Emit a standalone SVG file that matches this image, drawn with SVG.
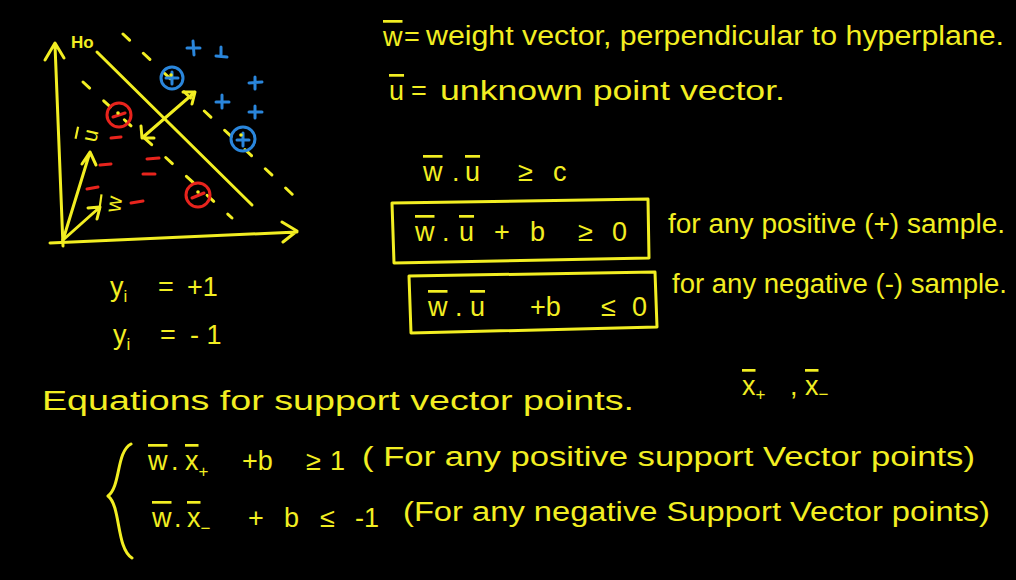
<svg xmlns="http://www.w3.org/2000/svg" width="1016" height="580" viewBox="0 0 1016 580">
<style>
.y{fill:#f2ee22;font-family:"Liberation Sans",Arial,sans-serif;font-size:27px}
.s{font-size:17px}
.o{text-decoration:overline}
.ln{stroke:#f2ee22;stroke-width:3;fill:none;stroke-linecap:round;stroke-linejoin:round}
.ds{stroke:#f2ee22;stroke-width:3;fill:none;stroke-linecap:round;stroke-dasharray:9 19}
.bl{stroke:#2a86dc;stroke-width:3;fill:none;stroke-linecap:round}
.rd{stroke:#e8241d;stroke-width:3;fill:none;stroke-linecap:round}
</style>
<rect width="1016" height="580" fill="#000"/>
<g id="plot">
<path class="ln" d="M63,246 L55,45 M45,60 L55,43 L64,58"/>
<path class="ln" d="M50,243 L297,232 M282,222 L297,231 L283,242"/>
<text class="y" x="71" y="48" style="font-size:17px;font-weight:bold">Ho</text>
<path class="ln" d="M97,52 L252,205"/>
<path class="ds" d="M123,34 L293,195"/>
<path class="ds" d="M83,82 L232,218"/>
<path class="ln" d="M142,138 L195,92 M183,92 L195,92 L192,104 M141,126 L142,138 L154,138"/>
<path class="ln" d="M63,240 L90,152 M82,164 L90,152 L96,165"/>
<path class="ln" d="M63,240 L100,207 M88,208 L100,207 L97,219"/>
<text class="y" transform="translate(96,143) rotate(-78)" style="font-size:22px"><tspan class="o">u</tspan></text>
<text class="y" transform="translate(120,213) rotate(-82)" style="font-size:22px"><tspan class="o">w</tspan></text>
<circle class="bl" cx="172" cy="78" r="11"/>
<path class="bl" d="M166,78 L178,78 M172,72 L172,84"/>
<circle class="bl" cx="243" cy="139" r="12"/>
<path class="bl" d="M237,140 L249,140 M243,133 L243,146"/>
<path class="bl" d="M187,48 L200,48 M193,41 L194,55 M216,56 L227,57 M221,47 L221,56 M249,83 L262,82 M255,77 L255,89 M216,102 L229,102 M222,95 L222,108 M249,112 L262,112 M255,106 L255,118"/>
<circle class="rd" cx="119" cy="115" r="12"/>
<path class="rd" d="M113,117 L125,113"/>
<circle class="rd" cx="198" cy="195" r="12"/>
<path class="rd" d="M192,198 L204,193"/>
<path class="rd" d="M111,138 L121,137 M100,165 L111,164 M147,159 L159,158 M143,174 L155,174 M87,189 L98,187 M131,203 L143,201"/>
<circle cx="118" cy="113" r="1.8" fill="#f2ee22"/>
<circle cx="198" cy="192" r="1.8" fill="#f2ee22"/>
<circle cx="171" cy="75" r="1.8" fill="#f2ee22"/>
<circle cx="241" cy="135" r="1.8" fill="#f2ee22"/>
</g>
<g id="defs-text">
<text class="y" y="46"><tspan x="383" class="o">w</tspan><tspan x="404">=</tspan></text>
<text class="y" x="426" y="45" textLength="578" lengthAdjust="spacingAndGlyphs">weight vector, perpendicular to hyperplane.</text>
<text class="y" y="100"><tspan x="389" class="o">u</tspan><tspan x="411">=</tspan></text>
<text class="y" x="440" y="100" textLength="345" lengthAdjust="spacingAndGlyphs">unknown point vector.</text>
</g>
<g id="ineq">
<text class="y" y="181"><tspan x="423" class="o">w</tspan><tspan x="452">.</tspan><tspan x="465" class="o">u</tspan><tspan x="518">≥</tspan><tspan x="553">c</tspan></text>
</g>
<g id="box-pos">
<path class="ln" d="M392,203 L648,199 L649,258 L394,263 Z"/>
<text class="y" y="241"><tspan x="415" class="o">w</tspan><tspan x="442">.</tspan><tspan x="459" class="o">u</tspan><tspan x="494">+</tspan><tspan x="530">b</tspan><tspan x="578">≥</tspan><tspan x="612">0</tspan></text>
<text class="y" x="668" y="233" textLength="337" lengthAdjust="spacingAndGlyphs">for any positive (+) sample.</text>
</g>
<g id="box-neg">
<path class="ln" d="M409,276 L655,272 L657,327 L411,333 Z"/>
<text class="y" y="316"><tspan x="428" class="o">w</tspan><tspan x="455">.</tspan><tspan x="470" class="o">u</tspan><tspan x="530">+b</tspan><tspan x="601">≤</tspan><tspan x="632">0</tspan></text>
<text class="y" x="672" y="293" textLength="335" lengthAdjust="spacingAndGlyphs">for any negative (-) sample.</text>
</g>
<g id="labels">
<text class="y" y="296"><tspan x="110">y</tspan><tspan class="s" dy="6">i</tspan><tspan x="158" dy="-6">=</tspan><tspan x="187">+1</tspan></text>
<text class="y" y="344"><tspan x="113">y</tspan><tspan class="s" dy="6">i</tspan><tspan x="160" dy="-6">=</tspan><tspan x="190">- 1</tspan></text>
</g>
<g id="support">
<text class="y" x="42" y="410" textLength="592" lengthAdjust="spacingAndGlyphs">Equations for  support  vector  points.</text>
<text class="y" y="395"><tspan x="742" class="o">x</tspan><tspan class="s" dy="5">+</tspan><tspan x="790" dy="-5">,</tspan><tspan x="805" class="o">x</tspan><tspan class="s" dy="5">−</tspan></text>
<path class="ln" d="M131,444 C116,452 121,486 108,496 C121,506 116,548 132,558"/>
<text class="y" y="470"><tspan x="148" class="o">w</tspan><tspan x="171">.</tspan><tspan x="185" class="o">x</tspan><tspan class="s" dy="7">+</tspan><tspan x="242" dy="-7">+b</tspan><tspan x="306">≥</tspan><tspan x="330">1</tspan></text>
<text class="y" x="362" y="466" textLength="613" lengthAdjust="spacingAndGlyphs">( For any positive  support Vector points)</text>
<text class="y" y="527"><tspan x="152" class="o">w</tspan><tspan x="174">.</tspan><tspan x="187" class="o">x</tspan><tspan class="s" dy="7">−</tspan><tspan x="248" dy="-7">+</tspan><tspan x="284">b</tspan><tspan x="320">≤</tspan><tspan x="355">-1</tspan></text>
<text class="y" x="403" y="521" textLength="587" lengthAdjust="spacingAndGlyphs">(For any negative  Support Vector points)</text>
</g>
</svg>
